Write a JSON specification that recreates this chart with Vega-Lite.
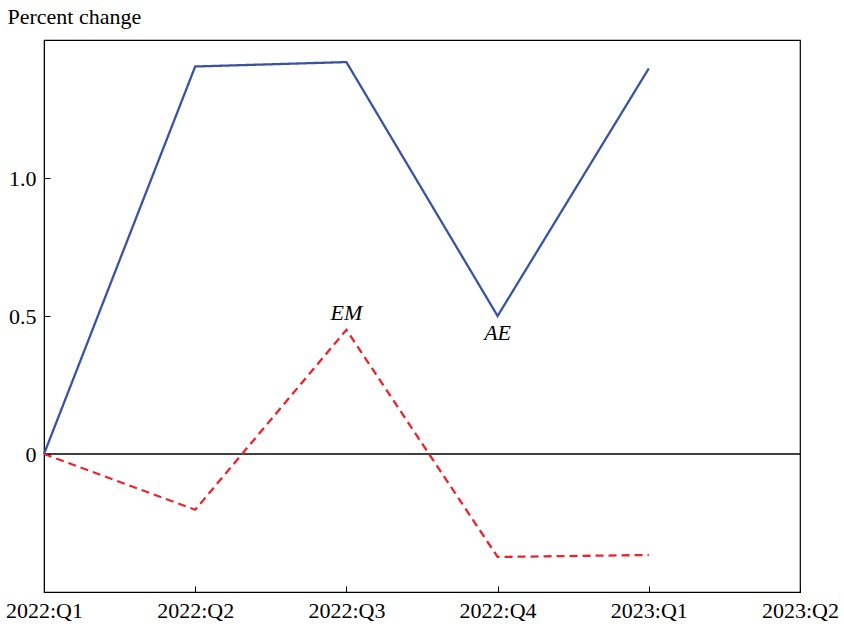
{
  "$schema": "https://vega.github.io/schema/vega-lite/v6.json",
  "width": 756,
  "height": 552,
  "autosize": {"type": "none"},
  "padding": {"left": 44, "top": 40, "right": 44, "bottom": 35},
  "background": "white",
  "config": {
    "view": {"stroke": "black", "strokeWidth": 1.2},
    "font": "Liberation Serif",
    "axis": {
      "grid": false, "labelFont": "Liberation Serif", "titleFont": "Liberation Serif",
      "labelFontSize": 22, "titleFontSize": 22, "titleFontWeight": "normal",
      "labelColor": "black", "titleColor": "black", "domainColor": "black", "tickColor": "black",
      "tickSize": -6, "labelPadding": 14
    }
  },
  "datasets": {
    "series": [
      {"q": 0, "value": 0, "region": "AE"},
      {"q": 1, "value": 1.404, "region": "AE"},
      {"q": 2, "value": 1.42, "region": "AE"},
      {"q": 3, "value": 0.5, "region": "AE"},
      {"q": 4, "value": 1.397, "region": "AE"},
      {"q": 0, "value": 0, "region": "EM"},
      {"q": 1, "value": -0.202, "region": "EM"},
      {"q": 2, "value": 0.45, "region": "EM"},
      {"q": 3, "value": -0.373, "region": "EM"},
      {"q": 4, "value": -0.366, "region": "EM"}
    ],
    "labels": [
      {"q": 2, "value": 0.51, "label": "EM"},
      {"q": 3, "value": 0.44, "label": "AE"}
    ],
    "zero": [{"y": 0}]
  },
  "encoding": {
    "x": {
      "field": "q", "type": "quantitative",
      "scale": {"domain": [0, 5], "nice": false, "zero": false},
      "axis": {
        "title": null, "values": [0, 1, 2, 3, 4, 5], "labelFlush": false,
        "labelExpr": "['2022:Q1','2022:Q2','2022:Q3','2022:Q4','2023:Q1','2023:Q2'][datum.value]"
      }
    },
    "y": {
      "field": "value", "type": "quantitative",
      "scale": {"domain": [-0.5, 1.5], "nice": false, "zero": false},
      "axis": {
        "title": "Percent change", "titleAngle": 0, "titleAlign": "left", "titleBaseline": "middle",
        "titleX": -37, "titleY": -24,
        "values": [0, 0.5, 1],
        "labelExpr": "datum.value == 0 ? '0' : format(datum.value, '.1f')"
      }
    }
  },
  "layer": [
    {
      "data": {"name": "zero"},
      "mark": {"type": "rule", "color": "#000000", "strokeWidth": 1.5, "opacity": 1},
      "encoding": {"x": null, "y": {"field": "y", "type": "quantitative"}}
    },
    {
      "data": {"name": "series"},
      "mark": {"type": "line", "strokeWidth": 2.3},
      "encoding": {
        "color": {"field": "region", "type": "nominal", "scale": {"domain": ["AE", "EM"], "range": ["#3a54a4", "#ee2229"]}, "legend": null},
        "strokeDash": {"field": "region", "type": "nominal", "scale": {"domain": ["AE", "EM"], "range": [[1, 0], [8, 5]]}, "legend": null}
      }
    },
    {
      "data": {"name": "labels"},
      "mark": {"type": "text", "fontStyle": "italic", "fontSize": 22, "font": "Liberation Serif", "color": "black", "baseline": "middle"},
      "encoding": {
        "text": {"field": "label"}
      }
    }
  ]
}
